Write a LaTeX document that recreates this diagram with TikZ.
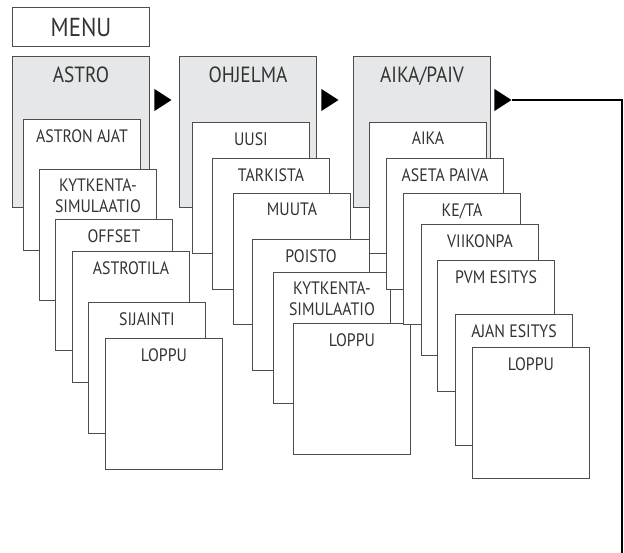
\documentclass[tikz,border=0pt]{standalone}
\usepackage{fontspec}
\setmainfont{PT Sans}[FakeStretch=0.88]
\usetikzlibrary{shapes.geometric}
\definecolor{boxgray}{HTML}{E6E7E8}
\definecolor{linegray}{HTML}{4D4D4F}
\definecolor{textgray}{HTML}{333333}
\begin{document}
\begin{tikzpicture}[
    x=1pt,y=-1pt,
    menubox/.style={draw=linegray, line width=1pt, minimum width=137pt, minimum height=39pt, inner sep=0pt, anchor=north west, text=textgray, font=\fontsize{26}{30}\selectfont},
    headbox/.style={draw=linegray, line width=1pt, fill=boxgray, minimum width=137pt, minimum height=151pt, inner sep=0pt, anchor=north west},
    headtext/.style={anchor=north, yshift=-11pt, inner sep=0pt, text=textgray, font=\fontsize{22}{26}\selectfont},
    itembox/.style={draw=linegray, line width=1pt, fill=white, minimum width=117pt, minimum height=131pt, inner sep=0pt, anchor=north west},
    itemtext/.style={anchor=north, yshift=-10pt, inner sep=0pt, text=textgray, align=center, font=\fontsize{18}{21}\selectfont},
    tri/.style={isosceles triangle, isosceles triangle stretches, fill=black, inner sep=0pt, minimum width=22pt, minimum height=17pt, anchor=apex}
    ]
\useasboundingbox (0,0) rectangle (624,553);

\node[menubox] (menu) at (12,7) {MENU};

\node[headbox, label={[headtext]north:ASTRO}] (astro) at (12,56) {};
\node[headbox, label={[headtext]north:OHJELMA}] (ohjelma) at (179,56) {};
\node[headbox, label={[headtext]north:AIKA/PAIV}] (aikapaiv) at (353,56) {};

\node[tri] (astroarrow) at (172,100) {};
\node[tri] (ohjelmaarrow) at (339,100) {};
\node[tri] (aikaarrow) at (512,100) {};

\node[itembox, label={[itemtext]north:ASTRON AJAT}] (a1) at (23,119) {};
\node[itembox, label={[itemtext]north:{KYTKENTA-\\SIMULAATIO}}] (a2) at (39,169) {};
\node[itembox, label={[itemtext]north:OFFSET}] (a3) at (55,219) {};
\node[itembox, label={[itemtext]north:ASTROTILA}] (a4) at (72,251) {};
\node[itembox, label={[itemtext]north:SIJAINTI}] (a5) at (88,302) {};
\node[itembox, label={[itemtext]north:LOPPU}] (a6) at (105,338) {};

\node[itembox, label={[itemtext]north:UUSI}] (o1) at (192,122) {};
\node[itembox, label={[itemtext]north:TARKISTA}] (o2) at (212,158) {};
\node[itembox, label={[itemtext]north:MUUTA}] (o3) at (233,193) {};
\node[itembox, label={[itemtext]north:POISTO}] (o4) at (252,239) {};
\node[itembox, label={[itemtext]north:{KYTKENTA-\\SIMULAATIO}}] (o5) at (273,272) {};
\node[itembox, label={[itemtext]north:LOPPU}] (o6) at (293,323) {};

\node[itembox, label={[itemtext]north:AIKA}] (p1) at (369,122) {};
\node[itembox, label={[itemtext]north:ASETA PAIVA}] (p2) at (386,158) {};
\node[itembox, label={[itemtext]north:KE/TA}] (p3) at (403,193) {};
\node[itembox, label={[itemtext]north:VIIKONPA}] (p4) at (421,224) {};
\node[itembox, label={[itemtext]north:PVM ESITYS}] (p5) at (437,260) {};
\node[itembox, label={[itemtext]north:AJAN ESITYS}] (p6) at (455,314) {};
\node[itembox, label={[itemtext]north:LOPPU}] (p7) at (472,347) {};

\coordinate (turn) at (621.8,100);
\coordinate (exit) at (621.8,553);
\draw[line width=2.2pt] (aikaarrow.apex) -- (turn) -- (exit);
\end{tikzpicture}
\end{document}
